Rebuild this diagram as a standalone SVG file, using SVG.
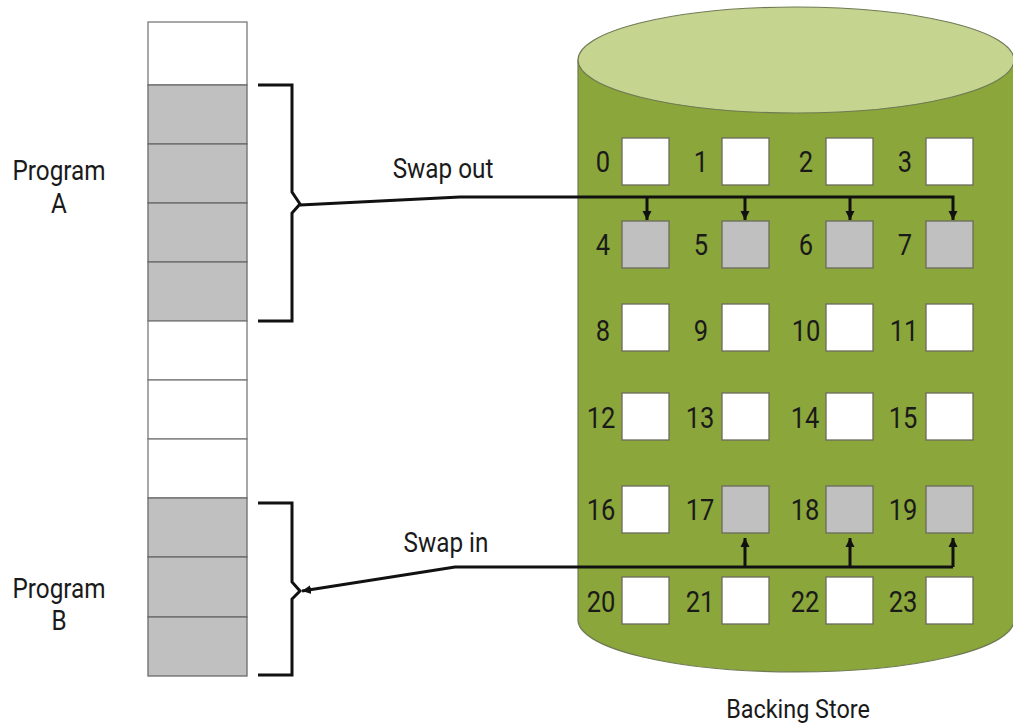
<svg xmlns="http://www.w3.org/2000/svg" width="1013" height="727" viewBox="0 0 1013 727">
<style>
.t{font-family:Roboto,"Liberation Sans",sans-serif;fill:#1a1a1a}
.num{font-size:30px;text-anchor:middle}
.lbl{font-size:27px;text-anchor:middle}
.mw{fill:#ffffff;stroke:#7a7a7a;stroke-width:1.3}
.mg{fill:#c0c0c0;stroke:#6a6a6a;stroke-width:1.3}
.sw{fill:#ffffff;stroke:#6b6b5b;stroke-width:1.3}
.sg{fill:#c0c0c0;stroke:#6b6b5b;stroke-width:1.3}
.ln{fill:none;stroke:#111;stroke-width:3}
</style>
<defs>
<marker id="ah" viewBox="0 0 10 10" refX="10" refY="5" markerWidth="9" markerHeight="10" markerUnits="userSpaceOnUse" orient="auto">
<path d="M0,0 L10,5 L0,10 z" fill="#111"/>
</marker>
</defs>
<rect width="1013" height="727" fill="#ffffff"/>

<g id="memory">
<rect class="mw" x="148" y="22" width="99" height="63"/>
<rect class="mg" x="148" y="85" width="99" height="59"/>
<rect class="mg" x="148" y="144" width="99" height="59"/>
<rect class="mg" x="148" y="203" width="99" height="59"/>
<rect class="mg" x="148" y="262" width="99" height="59"/>
<rect class="mw" x="148" y="321" width="99" height="59"/>
<rect class="mw" x="148" y="380" width="99" height="59"/>
<rect class="mw" x="148" y="439" width="99" height="59"/>
<rect class="mg" x="148" y="498" width="99" height="59"/>
<rect class="mg" x="148" y="557" width="99" height="60"/>
<rect class="mg" x="148" y="617" width="99" height="59"/>
</g>

<g id="programA">
<text class="t lbl" transform="translate(59,180) scale(0.9,1)">Program</text>
<text class="t lbl" transform="translate(59,213) scale(0.9,1)">A</text>
<path class="ln" d="M258,85 H292 V192 L300,204 L292,213 V321 H258"/>
</g>

<g id="programB">
<text class="t lbl" transform="translate(59,598) scale(0.9,1)">Program</text>
<text class="t lbl" transform="translate(59,630) scale(0.9,1)">B</text>
<path class="ln" d="M258,503 H292 V582 L300,591 L292,599 V675 H258"/>
</g>

<g id="backing-store">
<path d="M578,60 V620 A218,52 0 0 0 1014,620 V60 Z" fill="#8ba63a" stroke="#6f7a55" stroke-width="1.2"/>
<ellipse cx="796" cy="60" rx="218" ry="53" fill="#c5d48e" stroke="#6f7a55" stroke-width="1.2"/>
<text class="t lbl" transform="translate(798,718) scale(0.9,1)" style="font-size:26px">Backing Store</text>
</g>

<g id="slots">
<rect class="sw" x="622" y="138" width="47" height="47"/>
<rect class="sw" x="722" y="138" width="47" height="47"/>
<rect class="sw" x="826" y="138" width="47" height="47"/>
<rect class="sw" x="926" y="138" width="47" height="47"/>
<rect class="sg" x="622" y="221" width="47" height="47"/>
<rect class="sg" x="722" y="221" width="47" height="47"/>
<rect class="sg" x="826" y="221" width="47" height="47"/>
<rect class="sg" x="926" y="221" width="47" height="47"/>
<rect class="sw" x="622" y="304" width="47" height="47"/>
<rect class="sw" x="722" y="304" width="47" height="47"/>
<rect class="sw" x="826" y="304" width="47" height="47"/>
<rect class="sw" x="926" y="304" width="47" height="47"/>
<rect class="sw" x="622" y="393" width="47" height="47"/>
<rect class="sw" x="722" y="393" width="47" height="47"/>
<rect class="sw" x="826" y="393" width="47" height="47"/>
<rect class="sw" x="926" y="393" width="47" height="47"/>
<rect class="sw" x="622" y="486" width="47" height="47"/>
<rect class="sg" x="722" y="486" width="47" height="47"/>
<rect class="sg" x="826" y="486" width="47" height="47"/>
<rect class="sg" x="926" y="486" width="47" height="47"/>
<rect class="sw" x="622" y="577" width="47" height="47"/>
<rect class="sw" x="722" y="577" width="47" height="47"/>
<rect class="sw" x="826" y="577" width="47" height="47"/>
<rect class="sw" x="926" y="577" width="47" height="47"/>

<text class="t num" transform="translate(603,172) scale(0.85,1)">0</text>
<text class="t num" transform="translate(701,172) scale(0.85,1)">1</text>
<text class="t num" transform="translate(806,172) scale(0.85,1)">2</text>
<text class="t num" transform="translate(905,172) scale(0.85,1)">3</text>
<text class="t num" transform="translate(603,255) scale(0.85,1)">4</text>
<text class="t num" transform="translate(701,255) scale(0.85,1)">5</text>
<text class="t num" transform="translate(806,255) scale(0.85,1)">6</text>
<text class="t num" transform="translate(905,255) scale(0.85,1)">7</text>
<text class="t num" transform="translate(603,341) scale(0.85,1)">8</text>
<text class="t num" transform="translate(701,341) scale(0.85,1)">9</text>
<text class="t num" transform="translate(806,341) scale(0.85,1)">10</text>
<text class="t num" transform="translate(904,341) scale(0.85,1)">11</text>
<text class="t num" transform="translate(601,428) scale(0.85,1)">12</text>
<text class="t num" transform="translate(700,428) scale(0.85,1)">13</text>
<text class="t num" transform="translate(805,428) scale(0.85,1)">14</text>
<text class="t num" transform="translate(903,428) scale(0.85,1)">15</text>
<text class="t num" transform="translate(601,520) scale(0.85,1)">16</text>
<text class="t num" transform="translate(700,520) scale(0.85,1)">17</text>
<text class="t num" transform="translate(805,520) scale(0.85,1)">18</text>
<text class="t num" transform="translate(903,520) scale(0.85,1)">19</text>
<text class="t num" transform="translate(601,612) scale(0.85,1)">20</text>
<text class="t num" transform="translate(700,612) scale(0.85,1)">21</text>
<text class="t num" transform="translate(805,612) scale(0.85,1)">22</text>
<text class="t num" transform="translate(903,612) scale(0.85,1)">23</text>
</g>

<g id="connectors">
<text class="t lbl" transform="translate(443,178) scale(0.9,1)">Swap out</text>
<path class="ln" d="M300,205 L460,197 H953 V220" marker-end="url(#ah)"/>
<path class="ln" d="M647,197 V220" marker-end="url(#ah)"/>
<path class="ln" d="M745,197 V220" marker-end="url(#ah)"/>
<path class="ln" d="M850,197 V220" marker-end="url(#ah)"/>

<text class="t lbl" transform="translate(446,552) scale(0.9,1)">Swap in</text>
<path class="ln" d="M953,567 H455 L302,591" marker-end="url(#ah)"/>
<path class="ln" d="M953,567 V538" marker-end="url(#ah)"/>
<path class="ln" d="M850,567 V538" marker-end="url(#ah)"/>
<path class="ln" d="M745,567 V538" marker-end="url(#ah)"/>
</g>
</svg>
